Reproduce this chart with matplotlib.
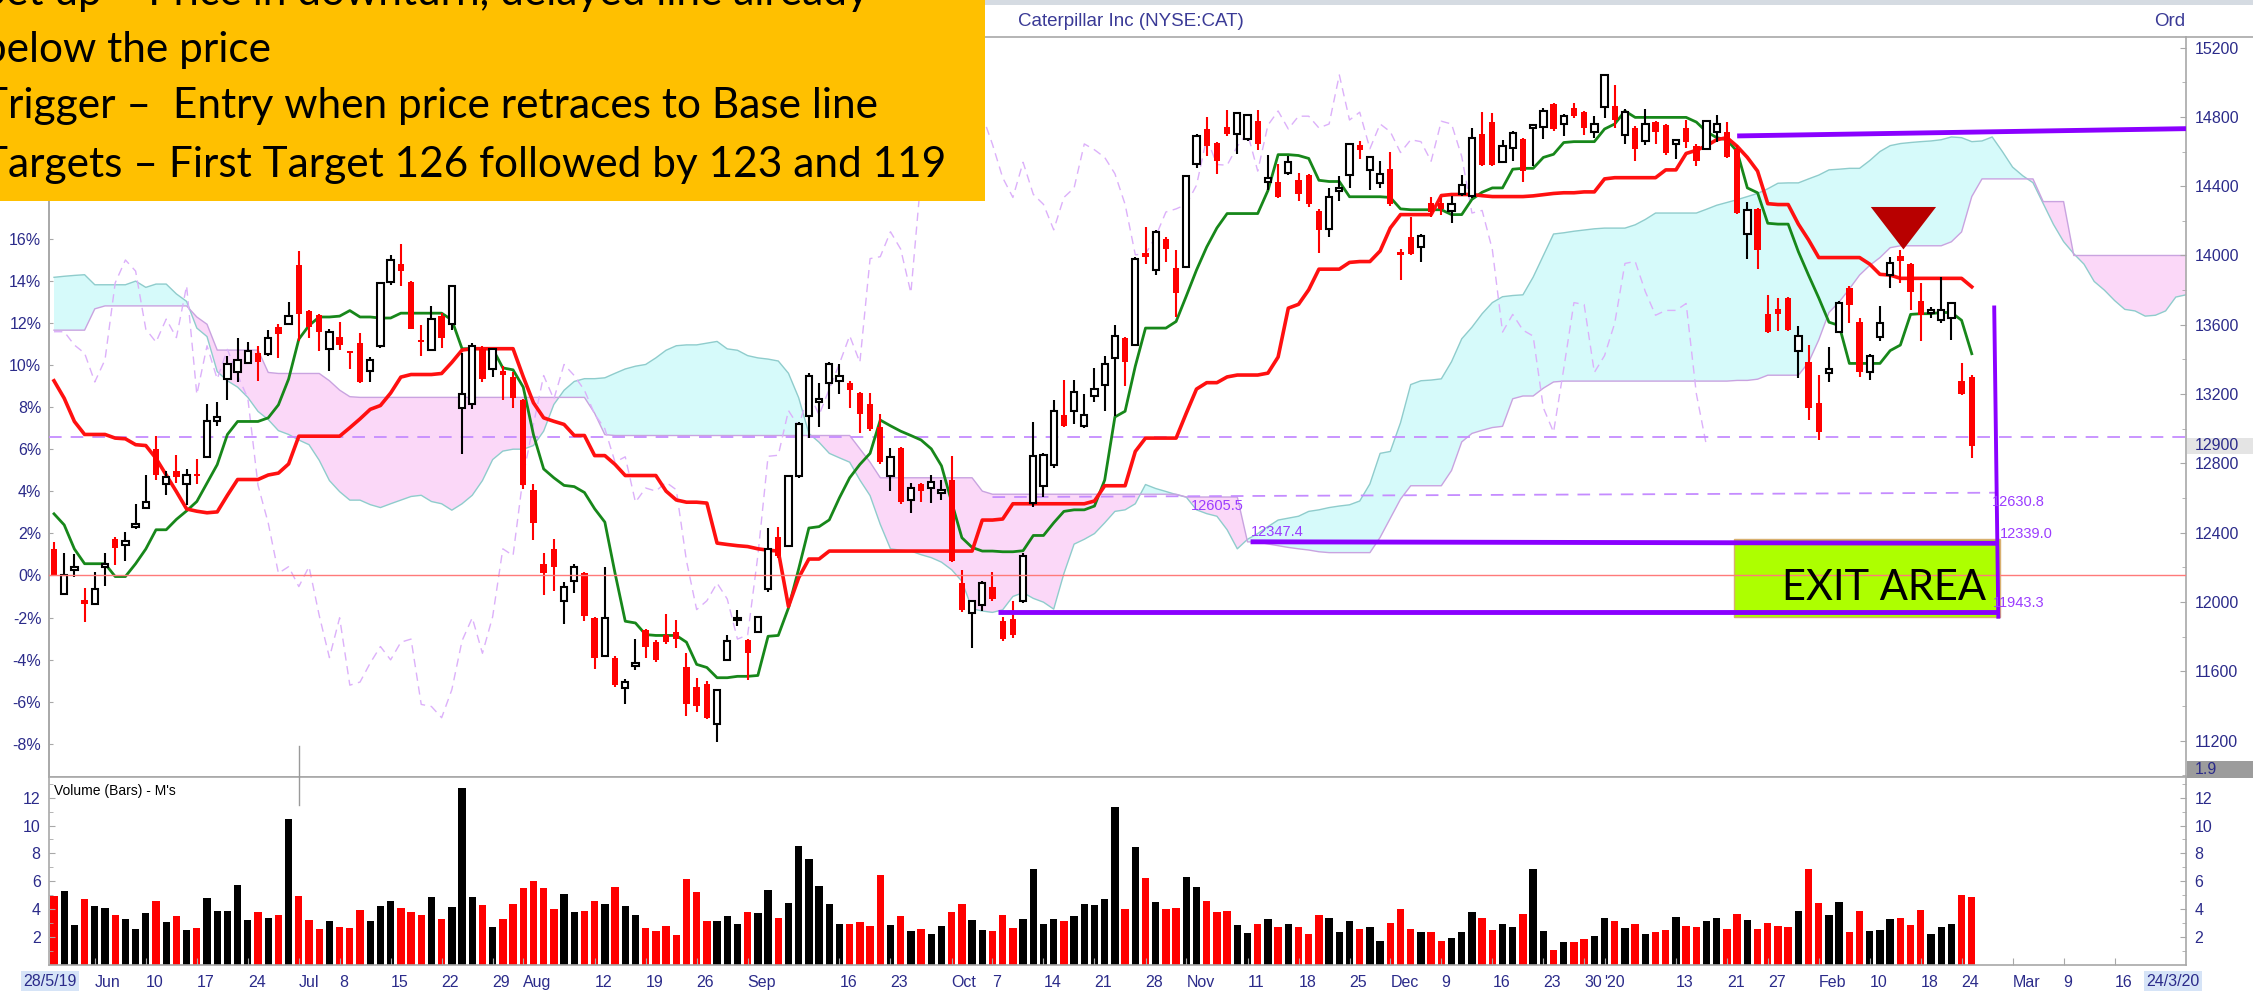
import numpy as np
import matplotlib.pyplot as plt
from matplotlib.patches import Rectangle, Polygon
from matplotlib.lines import Line2D

plt.rcParams['font.family'] = ['Liberation Sans', 'DejaVu Sans']

# ---- daily candles (price x100), 28/5/19 .. 25/2/20 ----
opens = [
    12306, 12046, 12183, 12012, 11991, 12200, 12366, 12328, 12434, 12545,
    12882, 12680, 12758, 12680, 12739, 12835, 13042, 13287, 13330, 13377,
    13436, 13432, 13590, 13607, 13944, 13682, 13654, 13458, 13532, 13445,
    13494, 13334, 13475, 13846, 13952, 13846, 13511, 13454, 13650, 13603,
    13117, 13142, 13462, 13347, 13334, 13298, 13164, 12648, 12217, 12307,
    12007, 12120, 12166, 11909, 11691, 11679, 11504, 11633, 11838, 11768,
    11812, 11825, 11627, 11512, 11525, 11294, 11666, 11897, 11781, 11827,
    12076, 12376, 12325, 12725, 13076, 13153, 13263, 13274, 13263, 13204,
    13140, 13012, 12730, 12889, 12589, 12679, 12658, 12632, 12704, 12109,
    11935, 11981, 12089, 11889, 11900, 12003, 12572, 12671, 12792, 13079,
    13101, 13013, 13189, 13255, 13409, 13524, 13486, 14015, 13916, 14093,
    13927, 13934, 14529, 14732, 14648, 14743, 14699, 14670, 14778, 14423,
    14423, 14478, 14434, 14463, 14258, 14154, 14375, 14463, 14639, 14494,
    14419, 14500, 14022, 14104, 14048, 14302, 14302, 14258, 14357, 14346,
    14700, 14770, 14539, 14623, 14675, 14734, 14743, 14872, 14759, 14850,
    14827, 14714, 14856, 14865, 14698, 14736, 14661, 14770, 14752, 14646,
    14736, 14630, 14616, 14714, 14714, 14616, 14124, 14267, 13660, 13694,
    13755, 13451, 13383, 13150, 13320, 13558, 13814, 13615, 13325, 13528,
    13887, 13995, 13950, 13739, 13669, 13626, 13642, 13275, 13297]
highs = [
    12345, 12285, 12275, 12083, 12172, 12281, 12375, 12402, 12567, 12733,
    12961, 12754, 12850, 12765, 12825, 13142, 13155, 13419, 13526, 13500,
    13479, 13569, 13607, 13731, 14023, 13688, 13660, 13575, 13618, 13451,
    13554, 13415, 13846, 14001, 14065, 13852, 13596, 13709, 13667, 13831,
    13436, 13496, 13475, 13468, 13362, 13330, 13170, 12680, 12281, 12366,
    12115, 12217, 12171, 11915, 12204, 11691, 11556, 11786, 11845, 11781,
    11930, 11897, 11704, 11563, 11545, 11499, 11812, 11956, 11786, 11922,
    12427, 12435, 12735, 13038, 13320, 13263, 13386, 13376, 13274, 13212,
    13204, 13084, 12889, 12897, 12684, 12684, 12735, 12704, 12845, 12186,
    12012, 12120, 12171, 11915, 12005, 12285, 13039, 12858, 13167, 13281,
    13281, 13200, 13348, 13420, 13597, 13531, 13993, 14163, 14148, 14104,
    14031, 14463, 14699, 14798, 14655, 14842, 14825, 14815, 14842, 14582,
    14529, 14577, 14478, 14472, 14269, 14390, 14456, 14648, 14661, 14577,
    14544, 14599, 14037, 14220, 14126, 14339, 14331, 14344, 14463, 14736,
    14830, 14820, 14668, 14720, 14680, 14759, 14850, 14879, 14816, 14879,
    14833, 14804, 15047, 14986, 14843, 14748, 14843, 14775, 14759, 14675,
    14782, 14646, 14782, 14811, 14770, 14639, 14306, 14272, 13773, 13755,
    13762, 13592, 13483, 13309, 13474, 13739, 13823, 13642, 13433, 13710,
    13989, 14034, 13955, 13841, 13701, 13875, 13728, 13377, 13309]
lows = [
    12153, 12040, 12147, 11884, 11987, 12093, 12211, 12238, 12424, 12537,
    12707, 12616, 12686, 12562, 12680, 12835, 13014, 13164, 13270, 13372,
    13277, 13419, 13411, 13603, 13507, 13522, 13447, 13336, 13453, 13347,
    13266, 13270, 13468, 13831, 13825, 13575, 13419, 13447, 13468, 13569,
    12857, 13112, 13270, 13298, 13164, 13117, 12652, 12360, 12038, 12063,
    11871, 12050, 11889, 11615, 11684, 11512, 11409, 11607, 11679, 11653,
    11756, 11735, 11340, 11366, 11325, 11192, 11658, 11863, 11550, 11820,
    12058, 12256, 12320, 12717, 12948, 13012, 13115, 13202, 13120, 12973,
    12986, 12794, 12640, 12563, 12512, 12576, 12571, 12589, 12230, 11940,
    11735, 11948, 12007, 11776, 11790, 11994, 12550, 12605, 12775, 13008,
    13030, 13002, 13156, 13101, 13074, 13244, 13480, 13949, 13890, 13965,
    13647, 13927, 14507, 14577, 14472, 14688, 14588, 14661, 14610, 14379,
    14331, 14463, 14313, 14280, 14015, 14104, 14313, 14390, 14555, 14379,
    14390, 14286, 13861, 14004, 13965, 14220, 14236, 14185, 14346, 14331,
    14515, 14516, 14532, 14544, 14426, 14516, 14675, 14720, 14691, 14793,
    14698, 14680, 14793, 14736, 14646, 14544, 14639, 14646, 14578, 14555,
    14623, 14516, 14612, 14657, 14562, 14238, 13977, 13920, 13551, 13565,
    13565, 13293, 13053, 12935, 13270, 13551, 13610, 13297, 13279, 13506,
    13814, 13841, 13687, 13506, 13637, 13610, 13513, 13195, 12833]
closes = [
    12153, 12153, 12200, 11987, 12076, 12221, 12311, 12353, 12451, 12577,
    12733, 12722, 12722, 12733, 12727, 13042, 13070, 13372, 13398, 13447,
    13383, 13522, 13547, 13650, 13660, 13586, 13560, 13560, 13483, 13436,
    13270, 13398, 13842, 13974, 13910, 13575, 13500, 13633, 13526, 13825,
    13198, 13479, 13287, 13458, 13309, 13176, 12673, 12456, 12166, 12204,
    12089, 12204, 11922, 11679, 11909, 11520, 11538, 11648, 11743, 11666,
    11768, 11786, 11409, 11397, 11332, 11494, 11776, 11909, 11704, 11915,
    12307, 12268, 12730, 13025, 13307, 13171, 13371, 13307, 13222, 13084,
    13000, 12807, 12838, 12576, 12658, 12640, 12691, 12648, 12238, 11956,
    12007, 12109, 12017, 11786, 11810, 12268, 12841, 12847, 13105, 13013,
    13211, 13079, 13229, 13376, 13537, 13383, 13982, 13993, 14137, 14037,
    13784, 14456, 14692, 14632, 14544, 14699, 14820, 14809, 14641, 14449,
    14335, 14538, 14353, 14295, 14148, 14335, 14390, 14644, 14610, 14566,
    14472, 14295, 14004, 14009, 14110, 14251, 14269, 14295, 14405, 14677,
    14525, 14521, 14630, 14707, 14487, 14752, 14834, 14730, 14804, 14804,
    14736, 14759, 15042, 14782, 14827, 14616, 14759, 14714, 14594, 14668,
    14657, 14544, 14775, 14759, 14571, 14245, 14260, 14034, 13558, 13660,
    13569, 13535, 13121, 12980, 13347, 13728, 13717, 13325, 13422, 13610,
    13954, 13966, 13791, 13655, 13683, 13683, 13723, 13202, 12900]

# volume in millions
volumes = [
    4.92, 5.32, 2.90, 4.72, 4.20, 4.08, 3.62, 3.31, 2.59, 3.74,
    4.56, 3.07, 3.53, 2.54, 2.64, 4.77, 3.86, 3.84, 5.76, 3.21,
    3.77, 3.38, 3.62, 10.5, 4.92, 3.26, 2.59, 3.12, 2.76, 2.64,
    3.96, 3.19, 4.20, 4.56, 4.10, 3.77, 3.62, 4.89, 3.29, 4.15,
    12.7, 4.87, 4.27, 2.76, 3.29, 4.34, 5.54, 6.00, 5.52, 4.03,
    5.06, 3.77, 3.84, 4.56, 4.39, 5.56, 4.20, 3.60, 2.64, 2.42,
    2.83, 2.16, 6.14, 5.23, 3.19, 3.19, 3.50, 2.95, 3.79, 3.74,
    5.40, 3.36, 4.48, 8.51, 7.63, 5.64, 4.39, 2.93, 2.95, 3.07,
    2.78, 6.47, 2.90, 3.50, 2.45, 2.59, 2.25, 2.83, 3.77, 4.34,
    3.24, 2.54, 2.45, 3.62, 2.66, 3.31, 6.86, 2.93, 3.31, 3.12,
    3.50, 4.39, 4.32, 4.75, 11.34, 4.00, 8.43, 6.24, 4.52, 4.02,
    4.07, 6.31, 5.57, 4.62, 3.83, 3.90, 2.86, 2.31, 2.95, 3.31,
    2.69, 2.95, 2.71, 2.19, 3.60, 3.36, 2.36, 3.17, 2.60, 2.76,
    1.74, 3.00, 4.02, 2.57, 2.36, 2.36, 1.71, 1.95, 2.36, 3.79,
    3.38, 2.50, 2.95, 2.69, 3.64, 6.88, 2.43, 1.07, 1.67, 1.64,
    1.86, 2.05, 3.40, 3.19, 2.62, 2.95, 2.24, 2.36, 2.48, 3.43,
    2.81, 2.69, 3.17, 3.38, 2.55, 3.67, 3.24, 2.60, 3.00, 2.83,
    2.69, 3.90, 6.86, 4.43, 3.57, 4.50, 2.36, 3.86, 2.43, 2.48,
    3.29, 3.38, 2.88, 3.95, 2.24, 2.76, 2.95, 5.02, 4.90]

# ichimoku lines as drawn (conversion = green, base = red)
tenkan = [
    12509, 12445, 12306, 12221, 12221, 12221, 12147, 12147, 12221, 12306,
    12417, 12417, 12477, 12526, 12580, 12686, 12793, 12967, 13042, 13042,
    13042, 13063, 13138, 13287, 13517, 13596, 13645, 13645, 13650, 13682,
    13645, 13645, 13639, 13639, 13667, 13667, 13667, 13667, 13667, 13628,
    13462, 13462, 13462, 13462, 13351, 13340, 13240, 12966, 12768, 12717,
    12673, 12666, 12632, 12538, 12461, 12166, 11889, 11879, 11812, 11807,
    11807, 11807, 11768, 11640, 11622, 11563, 11563, 11571, 11571, 11576,
    11802, 11807, 11966, 12191, 12427, 12435, 12474, 12602, 12717, 12794,
    12858, 13050, 13017, 12986, 12961, 12935, 12884, 12786, 12576, 12371,
    12315, 12294, 12294, 12290, 12290, 12296, 12384, 12384, 12457, 12523,
    12532, 12532, 12554, 12704, 13068, 13101, 13361, 13581, 13581, 13581,
    13619, 13766, 13916, 14049, 14159, 14242, 14242, 14242, 14242, 14375,
    14582, 14582, 14577, 14560, 14434, 14427, 14427, 14339, 14339, 14339,
    14339, 14335, 14269, 14264, 14264, 14264, 14264, 14236, 14236, 14324,
    14365, 14390, 14390, 14498, 14503, 14503, 14566, 14584, 14652, 14657,
    14657, 14657, 14730, 14759, 14834, 14797, 14797, 14797, 14797, 14797,
    14797, 14770, 14714, 14680, 14668, 14600, 14390, 14362, 14186, 14181,
    14181, 14022, 13886, 13755, 13615, 13596, 13377, 13377, 13377, 13377,
    13451, 13483, 13660, 13664, 13664, 13671, 13671, 13626, 13433]
kijun = [
    13277, 13176, 13042, 12967, 12967, 12967, 12946, 12942, 12908, 12903,
    12829, 12733, 12637, 12537, 12524, 12515, 12520, 12616, 12707, 12707,
    12707, 12733, 12744, 12797, 12957, 12957, 12957, 12957, 12957, 13006,
    13057, 13112, 13134, 13206, 13298, 13313, 13313, 13313, 13319, 13383,
    13454, 13462, 13462, 13462, 13462, 13462, 13300, 13150, 13063, 13043,
    13025, 12961, 12961, 12845, 12845, 12794, 12730, 12730, 12730, 12730,
    12640, 12589, 12576, 12576, 12571, 12340, 12332, 12325, 12320, 12307,
    12299, 12294, 11974, 12140, 12248, 12248, 12294, 12294, 12294, 12294,
    12294, 12294, 12294, 12294, 12294, 12294, 12294, 12294, 12294, 12294,
    12294, 12473, 12473, 12479, 12567, 12567, 12567, 12567, 12567, 12567,
    12567, 12567, 12583, 12671, 12671, 12671, 12869, 12946, 12946, 12946,
    12946, 13090, 13229, 13266, 13266, 13299, 13310, 13310, 13310, 13321,
    13414, 13696, 13718, 13802, 13921, 13921, 13921, 13960, 13965, 13965,
    14026, 14159, 14236, 14236, 14236, 14236, 14346, 14352, 14352, 14352,
    14345, 14340, 14340, 14340, 14340, 14344, 14351, 14358, 14362, 14362,
    14367, 14367, 14442, 14449, 14449, 14449, 14449, 14449, 14494, 14494,
    14589, 14607, 14634, 14668, 14680, 14630, 14566, 14487, 14299, 14294,
    14294, 14181, 14090, 13988, 13988, 13988, 13988, 13988, 13950, 13891,
    13887, 13868, 13868, 13868, 13868, 13868, 13868, 13868, 13819]
# cloud edges (already shifted forward, run to 24/3/20)
span_a = [
    13874, 13880, 13885, 13889, 13831, 13831, 13831, 13831, 13852, 13816,
    13835, 13835, 13778, 13735, 13581, 13532, 13330, 13277, 13240, 13181,
    13100, 13053, 12989, 12967, 12935, 12908, 12818, 12701, 12637, 12588,
    12588, 12562, 12545, 12567, 12588, 12609, 12616, 12580, 12567, 12530,
    12567, 12616, 12701, 12822, 12871, 12882, 12882, 12903, 12986, 13140,
    13222, 13273, 13289, 13289, 13294, 13320, 13345, 13361, 13371, 13409,
    13453, 13479, 13484, 13484, 13494, 13504, 13461, 13453, 13422, 13409,
    13402, 13391, 13320, 13179, 12973, 12922, 12858, 12832, 12807, 12704,
    12614, 12448, 12307, 12299, 12294, 12273, 12256, 12230, 12186, 12120,
    11961, 11948, 11940, 11955, 12032, 12054, 12021, 11999, 11959, 12164,
    12334, 12362, 12395, 12457, 12523, 12532, 12567, 12678, 12655, 12638,
    12620, 12605, 12532, 12510, 12495, 12417, 12307, 12362, 12395, 12435,
    12473, 12484, 12495, 12523, 12532, 12545, 12554, 12561, 12583, 12682,
    12858, 12869, 13035, 13255, 13277, 13281, 13288, 13387, 13519, 13586,
    13664, 13728, 13762, 13769, 13773, 13875, 13999, 14124, 14131, 14140,
    14147, 14154, 14158, 14158, 14158, 14177, 14208, 14245, 14245, 14245,
    14245, 14245, 14267, 14290, 14306, 14322, 14340, 14358, 14385, 14417,
    14419, 14419, 14442, 14464, 14494, 14498, 14503, 14503, 14548, 14600,
    14634, 14646, 14652, 14657, 14661, 14668, 14684, 14680, 14657, 14661,
    14684, 14600, 14510, 14460, 14420, 14300, 14180, 14080, 14010, 13950,
    13850, 13800, 13740, 13689, 13680, 13650, 13655, 13680, 13760, 13773,
    13773]
span_b = [
    13569, 13569, 13569, 13569, 13692, 13709, 13709, 13709, 13709, 13709,
    13709, 13709, 13709, 13709, 13645, 13603, 13454, 13454, 13454, 13454,
    13454, 13325, 13319, 13319, 13319, 13319, 13319, 13277, 13223, 13185,
    13181, 13181, 13181, 13181, 13181, 13181, 13181, 13181, 13181, 13181,
    13181, 13181, 13181, 13181, 13181, 13181, 13181, 13181, 13181, 13181,
    13181, 13181, 13181, 13089, 12966, 12961, 12961, 12961, 12961, 12961,
    12961, 12961, 12961, 12961, 12961, 12961, 12961, 12961, 12961, 12961,
    12961, 12961, 12961, 12961, 12961, 12961, 12961, 12961, 12961, 12884,
    12807, 12717, 12717, 12717, 12717, 12717, 12717, 12717, 12717, 12717,
    12717, 12640, 12622, 12622, 12622, 12622, 12622, 12622, 12622, 12622,
    12622, 12622, 12622, 12622, 12622, 12622, 12622, 12622, 12622, 12622,
    12622, 12606, 12606, 12606, 12606, 12606, 12606, 12347, 12347, 12335,
    12325, 12315, 12307, 12300, 12290, 12285, 12285, 12285, 12285, 12285,
    12373, 12484, 12594, 12671, 12671, 12671, 12671, 12759, 12924, 12973,
    12991, 13007, 13014, 13173, 13189, 13189, 13234, 13270, 13275, 13275,
    13275, 13275, 13275, 13275, 13275, 13275, 13275, 13275, 13275, 13275,
    13275, 13275, 13275, 13275, 13275, 13279, 13279, 13286, 13309, 13309,
    13309, 13309, 13383, 13513, 13671, 13732, 13807, 13887, 13943, 13988,
    14045, 14056, 14056, 14056, 14056, 14056, 14079, 14136, 14340, 14442,
    14442, 14442, 14442, 14442, 14442, 14311, 14311, 14311, 14000, 14000,
    14000, 14000, 14000, 14000, 14000, 14000, 14000, 14000, 14000, 14000,
    14000]

date_pos = [4, 9, 14, 19, 24, 28, 33, 38, 43, 46, 53, 58, 63, 68, 77, 82, 88,
            92, 97, 102, 107, 111, 117, 122, 127, 131, 136, 141, 146, 150, 152,
            159, 164, 168, 173, 178, 183, 187, 192, 197, 202]
date_lab = ['Jun', '10', '17', '24', 'Jul', '8', '15', '22', '29', 'Aug', '12',
            '19', '26', 'Sep', '16', '23', 'Oct', '7', '14', '21', '28', 'Nov',
            '11', '18', '25', 'Dec', '9', '16', '23', '30', "'20", '13', '21',
            '27', 'Feb', '10', '18', '24', 'Mar', '9', '16']
price_ticks = list(range(11200, 15201, 400))
pct_ticks = list(range(-8, 17, 2))
vol_ticks = [2, 4, 6, 8, 10, 12]
notes = ['Set up \u2013 Price in downturn, delayed line already',
         'below the price',
         'Trigger \u2013  Entry when price retraces to Base line',
         'Targets \u2013 First Target 126 followed by 123 and 119']

P0 = 12153          # 0% reference level
dash_level = 12953  # dashed violet level

# ---------------------------------------------------------------
W, H = 2253, 994
fig = plt.figure(figsize=(W / 100, H / 100), dpi=100)


def fx(px):
    return px / W


def fy(py):
    return 1 - py / H


XL, XR = 49, 2186
ax = fig.add_axes([fx(XL), fy(777), fx(XR) - fx(XL), fy(37) - fy(777)])
axv = fig.add_axes([fx(XL), fy(965), fx(XR) - fx(XL), fy(777) - fy(965)], sharex=ax)

BLUE = '#2b2b8a'
GREY = '#a8a8a8'
PURPLE = '#8a00ff'
LILAC = '#c58cff'

o = np.array(opens)
h = np.array(highs)
l = np.array(lows)
c = np.array(closes)
idx = np.arange(len(c))
up = c >= o

# cloud
a = np.array(span_a)
b = np.array(span_b)
xc = np.arange(len(a))
ax.fill_between(xc, a, b, where=a >= b, interpolate=True, color='#d6fafa', lw=0, zorder=1)
ax.fill_between(xc, a, b, where=a < b, interpolate=True, color='#fbd8f8', lw=0, zorder=1)
ax.plot(xc, a, color='#8fcccc', lw=1, zorder=1.5)
ax.plot(xc, b, color='#c9a3e0', lw=1, zorder=1.5)

# lagging line
ax.plot(idx[:-26], c[26:], color='#dcb0fa', lw=1, dashes=(6, 4), zorder=2)

# levels
ax.axhline(dash_level, color=LILAC, lw=1.3, dashes=(7, 5), zorder=3)
ax.plot([92, 190.3], [12605.5, 12630.8], color=LILAC, lw=1.3, dashes=(7, 5), zorder=3)

# conversion / base lines
ax.plot(idx, tenkan, color='#17871a', lw=2, zorder=4)
ax.plot(idx, kijun, color='#ff1010', lw=2.6, zorder=4)

# candles
body_lo = np.minimum(o, c)
body_h = np.maximum(np.abs(c - o), 10)
ax.vlines(idx[up], l[up], h[up], color='black', lw=1.5, zorder=5)
ax.vlines(idx[~up], l[~up], h[~up], color='#ff0000', lw=1.5, zorder=5)
ax.bar(idx[up], body_h[up], bottom=body_lo[up], width=0.62, facecolor='white',
       edgecolor='black', linewidth=1.5, zorder=6)
ax.bar(idx[~up], body_h[~up], bottom=body_lo[~up], width=0.62, color='#ff0000',
       linewidth=0, zorder=6)

# exit area
ax.add_patch(Rectangle((164.7, 11915), 26.1, 449, facecolor='#adff00',
                       edgecolor='#d8b070', lw=1, zorder=7))
ax.axhline(P0, color='#ff7a7a', lw=1, zorder=7.5)
ax.text(189.4, 12081, 'EXIT AREA', ha='right', va='center', fontsize=30,
        family='Lato', color='black', zorder=9)

# drawn purple lines
ax.plot([117.3, 190.5], [12347.4, 12339.0], color=PURPLE, lw=3.5, zorder=8,
        solid_capstyle='butt')
ax.plot([92.5, 190.5], [11943.3, 11943.3], color=PURPLE, lw=3.5, zorder=8,
        solid_capstyle='butt')
ax.plot([165, 209], [14690, 14732], color=PURPLE, lw=3.5, zorder=8,
        solid_capstyle='butt')
ax.plot([190.2, 190.6], [13700, 11915], color=PURPLE, lw=2.8, zorder=8)

ax.add_patch(Polygon([(178.1, 14280), (184.5, 14280), (181.3, 14035)],
                     closed=True, facecolor='#b80000', edgecolor='none', zorder=9))

lab_kw = dict(fontsize=10.5, color='#9b3cff', zorder=9)
ax.text(111.4, 12596, '12605.5', va='top', ha='left', **lab_kw)
ax.text(117.3, 12362, '12347.4', va='bottom', ha='left', **lab_kw)
ax.text(190.0, 12618, '12630.8', va='top', ha='left', **lab_kw)
ax.text(190.8, 12354, '12339.0', va='bottom', ha='left', **lab_kw)
ax.text(190.06, 11995, '11943.3', va='center', ha='left', **lab_kw)

# price axis (right)
ax.set_xlim(-0.49, 209.0)
ax.set_ylim(10990, 15261)
ax.yaxis.tick_right()
ax.set_yticks(price_ticks)
ax.set_yticks(range(11000, 15300, 200), minor=True)
ax.tick_params(axis='y', which='both', direction='in', color=GREY, labelcolor=BLUE,
               labelsize=11.5, pad=6.5, length=4)
ax.tick_params(axis='y', which='minor', length=3)
ax.tick_params(axis='x', which='both', bottom=False, labelbottom=False)
for s in ax.spines.values():
    s.set_color(GREY)
    s.set_linewidth(1.2)

sec = ax.secondary_yaxis('left', functions=(lambda p: (p / P0 - 1) * 100,
                                            lambda q: P0 * (1 + q / 100)))
sec.set_yticks(pct_ticks)
sec.yaxis.set_major_formatter(lambda v, pos: f'{int(round(v))}%')
sec.tick_params(direction='in', length=3, color=GREY, labelcolor=BLUE,
                labelsize=11.5, pad=5.5)
sec.spines['left'].set_color(GREY)
sec.spines['left'].set_linewidth(1.2)

# volume panel
vcol = np.where(up, 'black', '#ff0000')
axv.bar(idx, volumes, width=0.72, color=vcol, linewidth=0)
axv.set_ylim(0, 13.48)
axv.set_yticks(vol_ticks)
axv.set_yticks(range(1, 14), minor=True)
axv.tick_params(axis='y', which='both', left=True, right=True, labelleft=True,
                labelright=True, direction='in', color=GREY, labelcolor=BLUE,
                labelsize=11.5, pad=6, length=4)
axv.tick_params(axis='y', which='minor', length=3)
axv.set_xticks(date_pos)
axv.set_xticklabels(date_lab, ha='left')
axv.tick_params(axis='x', direction='in', length=5, color=GREY, labelcolor=BLUE,
                labelsize=11.5, pad=7)
for s in axv.spines.values():
    s.set_color(GREY)
    s.set_linewidth(1.2)
axv.text(0.0025, 0.965, "Volume (Bars) - M's", transform=axv.transAxes, va='top',
         ha='left', fontsize=10, color='black')

# header strip and right-side boxes
fig.add_artist(Rectangle((0, fy(5)), 1, fy(0) - fy(5), transform=fig.transFigure,
                         facecolor='#d5dbe2', edgecolor='none', zorder=0))
fig.add_artist(Line2D([fx(XR), 1], [fy(37), fy(37)], color=GREY, lw=1.2))
fig.text(fx(1018), fy(22), 'Caterpillar Inc (NYSE:CAT)', va='center', ha='left',
         fontsize=13.5, color='#3a3a96')
fig.text(fx(2185), fy(22), 'Ord', va='center', ha='right', fontsize=13.5, color='#3a3a96')

fig.add_artist(Rectangle((fx(XR + 1), fy(454)), fx(W) - fx(XR + 1), fy(438) - fy(454),
                         transform=fig.transFigure, facecolor='#e4e4e4',
                         edgecolor='none', zorder=2))
fig.text(fx(2195), fy(446), '12900', va='center', ha='left', fontsize=11.5,
         color=BLUE, zorder=3)
fig.add_artist(Rectangle((fx(XR + 1), fy(778)), fx(W) - fx(XR + 1), fy(761) - fy(778),
                         transform=fig.transFigure, facecolor='#9c9c9c',
                         edgecolor='none', zorder=2))
fig.text(fx(2195), fy(769.5), '1.9', va='center', ha='left', fontsize=11.5,
         color=BLUE, zorder=3)

box = dict(facecolor='#d6e4f7', edgecolor='none', pad=1.5)
fig.text(fx(50), fy(981), '28/5/19', va='center', ha='center', fontsize=11.5,
         color=BLUE, bbox=box)
fig.text(fx(2173), fy(981), '24/3/20', va='center', ha='center', fontsize=11.5,
         color=BLUE, bbox=box)

# cursor line
fig.add_artist(Line2D([fx(299), fx(299)], [fy(746), fy(805)], color='#9a9a9a', lw=1))

# note box (its text runs past the left and top edges, as in the source image)
fig.add_artist(Rectangle((0, fy(201)), fx(985), 1 - fy(201), transform=fig.transFigure,
                         facecolor='#ffc000', edgecolor='none', zorder=20))
for t, yb in zip(notes, [5, 62, 118, 177]):
    fig.text(fx(-17), fy(yb), t, ha='left', va='baseline', fontsize=30.5,
             family='Lato', color='black', zorder=21)

fig.savefig('out.png', dpi=100)
